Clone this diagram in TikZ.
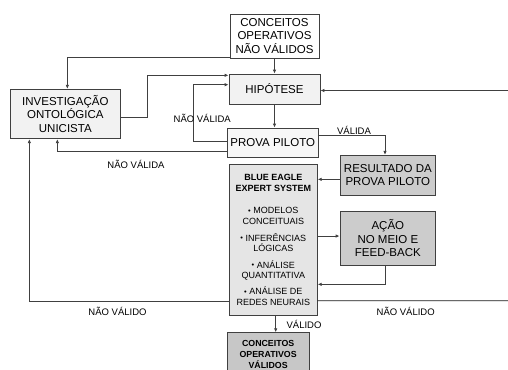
\documentclass[tikz,border=0pt]{standalone}
\usepackage{fontspec}
\setmainfont{Liberation Sans}
\usetikzlibrary{arrows.meta}
\newcommand{\bul}{{\fontsize{7.5}{7.5}\selectfont\raisebox{0.6pt}{•}}}

\begin{document}
\begin{tikzpicture}[x=1pt,y=-1pt,
    caixa/.style={draw=black!75, line width=0.8pt, inner sep=0pt, align=center,
        font=\fontsize{11.5}{13.5}\selectfont},
    rotulo/.style={inner sep=0pt, font=\fontsize{9.5}{11}\selectfont},
    liga/.style={draw=black!75, line width=0.9pt},
    seta/.style={liga, -{Latex[length=4pt,width=3.5pt]}}]
    \clip (0,0) rectangle (508,369);
    % caixas de cima:
    \node[caixa, fill=white, minimum width=89pt, minimum height=44pt] (naovalidos) at (274.5,36) {CONCEITOS\\OPERATIVOS\\NÃO VÁLIDOS};
    \node[caixa, fill=black!5, minimum width=91pt, minimum height=30pt] (hipotese) at (274.5,89) {HIPÓTESE};
    \node[caixa, fill=black!3, minimum width=90.5pt, minimum height=29pt] (prova) at (272.75,142.5) {PROVA PILOTO};
    \node[caixa, fill=black!5, minimum width=109.3pt, minimum height=49.4pt] (investigacao) at (65.35,114) {INVESTIGAÇÃO\\ONTOLÓGICA\\UNICISTA};
    % caixas da direita:
    \node[caixa, fill=black!20, minimum width=95.7pt, minimum height=39.7pt] (resultado) at (387.85,175.15) {RESULTADO DA\\PROVA PILOTO};
    \node[caixa, fill=black!20, minimum width=95.7pt, minimum height=54.7pt] (acao) at (387.85,238.35) {AÇÃO\\NO MEIO E\\FEED-BACK};
    % sistema especialista:
    \node[caixa, fill=black!10, minimum width=88pt, minimum height=150.3pt, font=\fontsize{9}{10.8}\selectfont] (blueeagle) at (273.3,239.85)
        {\textbf{BLUE EAGLE}\\\textbf{EXPERT SYSTEM}\\[12pt]\bul\ MODELOS\\CONCEITUAIS\\[5.5pt]\bul\ INFERÊNCIAS\\LÓGICAS\\[5.5pt]\bul\ ANÁLISE\\QUANTITATIVA\\[5pt]\bul\ ANÁLISE DE\\REDES NEURAIS};
    \node[caixa, fill=black!22, minimum width=81.7pt, minimum height=43.3pt, font=\bfseries\fontsize{8.8}{11}\selectfont] (validos) at (268.15,354.35) {CONCEITOS\\OPERATIVOS\\VÁLIDOS};
    % pontas soltas na margem:
    \coordinate (entra) at (508,90.5);
    \coordinate (sai) at (508,300.7);
    % ligacoes:
    \draw[seta] ([yshift=1.3pt]naovalidos.south west) -| ([xshift=2pt]investigacao.north);
    \draw[seta] (naovalidos) -- (hipotese);
    \draw[seta] ([yshift=-3.3pt]investigacao.east) -- ++(27,0) |- ([yshift=13.7pt]hipotese.west);
    \draw[seta] ([yshift=1.2pt]prova.west) -- ++(-33.5,0) |- ([yshift=4.3pt]hipotese.west);
    \draw[seta] ([yshift=-9.2pt]prova.west) -| ([xshift=-8pt]investigacao.south);
    \draw[seta] (hipotese.south) -- (hipotese.south |- prova.north);
    \draw[seta] (entra) -- (entra -| hipotese.east);
    \draw[seta] ([yshift=7.2pt]prova.east) -| ([xshift=-2.85pt]resultado.north);
    \draw[seta] ([yshift=-4.2pt]resultado.west) coordinate (r1) -- (r1 -| blueeagle.east);
    \draw[seta] ([yshift=2.3pt]acao.west -| blueeagle.east) -- ([yshift=2.3pt]acao.west);
    \draw[seta] ([xshift=-2.85pt]acao.south) |- ([yshift=-44.5pt]blueeagle.east);
    \draw[liga, draw=black!90] ([yshift=-60.9pt]blueeagle.east) -- (sai);
    \draw[seta] ([yshift=-61.9pt]blueeagle.west) -| ([xshift=-36pt]investigacao.south);
    \draw[seta] ([xshift=2.4pt]blueeagle.south) coordinate (b1) -- (b1 |- validos.north);
    % rotulos:
    \node[rotulo] (nv1) at (202.2,118) {NÃO VÁLIDA};
    \node[rotulo] (nv2) at (136,164.3) {NÃO VÁLIDA};
    \node[rotulo] (va1) at (354,130.5) {VÁLIDA};
    \node[rotulo] (nv3) at (405.7,311.5) {NÃO VÁLIDO};
    \node[rotulo] (nv4) at (117.5,311.5) {NÃO VÁLIDO};
    \node[rotulo] (va2) at (304,324.3) {VÁLIDO};
\end{tikzpicture}
\end{document}
